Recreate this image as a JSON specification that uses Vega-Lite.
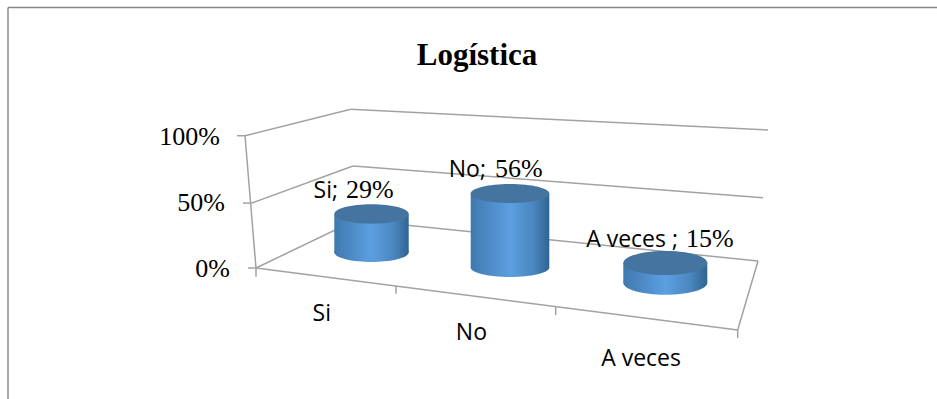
{
  "$schema": "https://vega.github.io/schema/vega-lite/v6.json",
  "width": 937,
  "height": 399,
  "padding": 0,
  "autosize": "none",
  "background": "#ffffff",
  "config": {"view": {"stroke": null}},
  "title": {
    "text": "Logística",
    "font": "Liberation Serif",
    "fontWeight": "bold",
    "fontSize": 31,
    "color": "#000000",
    "anchor": "middle",
    "dx": 8.5,
    "dy": 72,
    "offset": 0
  },
  "datasets": {
    "responses": [
      {"cat": "Si", "value": 29},
      {"cat": "No", "value": 56},
      {"cat": "A veces ", "value": 15}
    ],
    "gridLevels": [{"pct": 0}, {"pct": 50}, {"pct": 100}],
    "chartEdges": [{"edge": "top"}, {"edge": "left"}],
    "wallEdges": [
      {"edge": "side100"}, {"edge": "side50"}, {"edge": "side0"},
      {"edge": "back100"}, {"edge": "back50"}, {"edge": "back0"},
      {"edge": "frontLeft"}, {"edge": "floorFront"}, {"edge": "floorRight"},
      {"edge": "tick100"}, {"edge": "tick50"}, {"edge": "tick0"},
      {"edge": "catTick0"}, {"edge": "catTick1"}, {"edge": "catTick2"}, {"edge": "catTick3"}
    ]
  },
  "encoding": {
    "x": {"type": "quantitative", "axis": null, "scale": {"domain": [0, 937], "nice": false, "zero": false}},
    "y": {"type": "quantitative", "axis": null, "scale": {"domain": [-99.24, 203.03], "nice": false, "zero": false}}
  },
  "layer": [
    {
      "data": {"name": "chartEdges"},
      "transform": [
        {"calculate": "{top: [8, 197.3, 937, 197.3], left: [8, 197.3, 8, -99.24]}[datum.edge]", "as": "seg"},
        {"calculate": "datum.seg[0]", "as": "x1"},
        {"calculate": "datum.seg[1]", "as": "y1"},
        {"calculate": "datum.seg[2]", "as": "x2"},
        {"calculate": "datum.seg[3]", "as": "y2"}
      ],
      "mark": {"type": "rule", "color": "#868686", "strokeWidth": 1.4},
      "encoding": {
        "x": {"field": "x1", "type": "quantitative"},
        "y": {"field": "y1", "type": "quantitative"},
        "x2": {"field": "x2"},
        "y2": {"field": "y2"}
      }
    },
    {
      "data": {"name": "wallEdges"},
      "transform": [
        {"calculate": "{side100: [245, 100.2, 350.7, 120.2], side50: [251.7, 49.2, 353, 77.3], side0: [256, 0, 356, 36.4], back100: [350.7, 120.2, 768, 104.5], back50: [353, 77.3, 763, 53.3], back0: [356, 36.4, 758, 5.3], frontLeft: [245, 100.2, 256, 0], floorFront: [256, 0, 737.7, -47], floorRight: [737.7, -47, 758, 5.3], tick100: [237, 100.2, 245, 100.2], tick50: [243, 49.2, 251.7, 49.2], tick0: [248, 0, 256, 0], catTick0: [256, 0, 256, -6.6], catTick1: [396, -13.6, 396, -19.6], catTick2: [555.7, -29.5, 555.7, -35.6], catTick3: [737.7, -47, 737.7, -53]}[datum.edge]", "as": "seg"},
        {"calculate": "datum.seg[0]", "as": "x1"},
        {"calculate": "datum.seg[1]", "as": "y1"},
        {"calculate": "datum.seg[2]", "as": "x2"},
        {"calculate": "datum.seg[3]", "as": "y2"}
      ],
      "mark": {"type": "rule", "color": "#a2a2a2", "strokeWidth": 1.5},
      "encoding": {
        "x": {"field": "x1", "type": "quantitative"},
        "y": {"field": "y1", "type": "quantitative"},
        "x2": {"field": "x2"},
        "y2": {"field": "y2"}
      }
    },
    {
      "data": {"name": "gridLevels"},
      "transform": [
        {"calculate": "{0: 230, 50: 225, 100: 220}[datum.pct]", "as": "labelRight"},
        {"calculate": "datum.pct + '%'", "as": "labelText"}
      ],
      "mark": {"type": "text", "font": "Liberation Serif", "fontSize": 26, "align": "right", "baseline": "middle", "dy": 1, "color": "#000000"},
      "encoding": {
        "x": {"field": "labelRight", "type": "quantitative"},
        "y": {"field": "pct", "type": "quantitative"},
        "text": {"field": "labelText"}
      }
    },
    {
      "data": {"name": "responses"},
      "transform": [
        {"calculate": "indexof(['Si', 'No', 'A veces '], datum.cat)", "as": "slot"},
        {"calculate": "[371.5, 510, 665.3][datum.slot]", "as": "cx"},
        {"calculate": "[37.2, 39.3, 42][datum.slot]", "as": "rx"},
        {"calculate": "[11.9, 0.45, -11.2][datum.slot]", "as": "floorLift"},
        {"calculate": "datum.floorLift + datum.value", "as": "top"},
        {"calculate": "datum.cx - datum.rx", "as": "left"},
        {"calculate": "datum.cx + datum.rx", "as": "right"},
        {"calculate": "4 * datum.rx * datum.rx", "as": "capSize"},
        {"calculate": "[338, 486, 678][datum.slot]", "as": "nameRight"},
        {"calculate": "[346, 495, 686][datum.slot]", "as": "valueLeft"},
        {"calculate": "[331, 487, 681][datum.slot]", "as": "catX"},
        {"calculate": "[-39.9, -54.5, -74.2][datum.slot]", "as": "catY"},
        {"calculate": "datum.cat + ';'", "as": "labelName"},
        {"calculate": "datum.value + '%'", "as": "labelValue"}
      ],
      "layer": [
        {
          "mark": {
            "type": "point", "filled": true, "opacity": 1, "strokeWidth": 0,
            "fill": {"gradient": "linear", "x1": 0, "y1": 0, "x2": 1, "y2": 0, "stops": [
              {"offset": 0, "color": "#4079b0"}, {"offset": 0.5, "color": "#5c9fe0"}, {"offset": 0.8, "color": "#4b86bf"}, {"offset": 1, "color": "#2f6591"}
            ]}
          },
          "encoding": {
            "x": {"field": "cx", "type": "quantitative"},
            "y": {"field": "floorLift", "type": "quantitative"},
            "size": {"field": "capSize", "type": "quantitative", "scale": null},
            "shape": {"field": "cat", "type": "nominal", "legend": null, "scale": {
              "domain": ["Si", "No", "A veces "],
              "range": ["M-1,0A1,0.26,0,1,1,1,0A1,0.26,0,1,1,-1,0Z", "M-1,0A1,0.242,0,1,1,1,0A1,0.242,0,1,1,-1,0Z", "M-1,0A1,0.286,0,1,1,1,0A1,0.286,0,1,1,-1,0Z"]
            }}
          }
        },
        {
          "mark": {
            "type": "rect",
            "fill": {"gradient": "linear", "x1": 0, "y1": 0, "x2": 1, "y2": 0, "stops": [
              {"offset": 0, "color": "#4079b0"}, {"offset": 0.5, "color": "#5c9fe0"}, {"offset": 0.8, "color": "#4b86bf"}, {"offset": 1, "color": "#2f6591"}
            ]}
          },
          "encoding": {
            "x": {"field": "left", "type": "quantitative"},
            "x2": {"field": "right"},
            "y": {"field": "top", "type": "quantitative"},
            "y2": {"field": "floorLift"}
          }
        },
        {
          "mark": {"type": "point", "filled": true, "opacity": 1, "strokeWidth": 0, "fill": "#44749f"},
          "encoding": {
            "x": {"field": "cx", "type": "quantitative"},
            "y": {"field": "top", "type": "quantitative"},
            "size": {"field": "capSize", "type": "quantitative", "scale": null},
            "shape": {"field": "cat", "type": "nominal", "legend": null, "scale": {
              "domain": ["Si", "No", "A veces "],
              "range": ["M-1,0A1,0.26,0,1,1,1,0A1,0.26,0,1,1,-1,0Z", "M-1,0A1,0.242,0,1,1,1,0A1,0.242,0,1,1,-1,0Z", "M-1,0A1,0.286,0,1,1,1,0A1,0.286,0,1,1,-1,0Z"]
            }}
          }
        },
        {
          "mark": {"type": "text", "font": "Open Sans", "fontSize": 23, "align": "right", "baseline": "alphabetic", "dy": -16, "color": "#000000"},
          "encoding": {
            "x": {"field": "nameRight", "type": "quantitative"},
            "y": {"field": "top", "type": "quantitative"},
            "text": {"field": "labelName"}
          }
        },
        {
          "mark": {"type": "text", "font": "Liberation Serif", "fontSize": 26, "align": "left", "baseline": "alphabetic", "dy": -16, "color": "#000000"},
          "encoding": {
            "x": {"field": "valueLeft", "type": "quantitative"},
            "y": {"field": "top", "type": "quantitative"},
            "text": {"field": "labelValue"}
          }
        },
        {
          "mark": {"type": "text", "font": "Open Sans", "fontSize": 23, "align": "right", "baseline": "alphabetic", "color": "#000000"},
          "encoding": {
            "x": {"field": "catX", "type": "quantitative"},
            "y": {"field": "catY", "type": "quantitative"},
            "text": {"field": "cat"}
          }
        }
      ]
    }
  ]
}
